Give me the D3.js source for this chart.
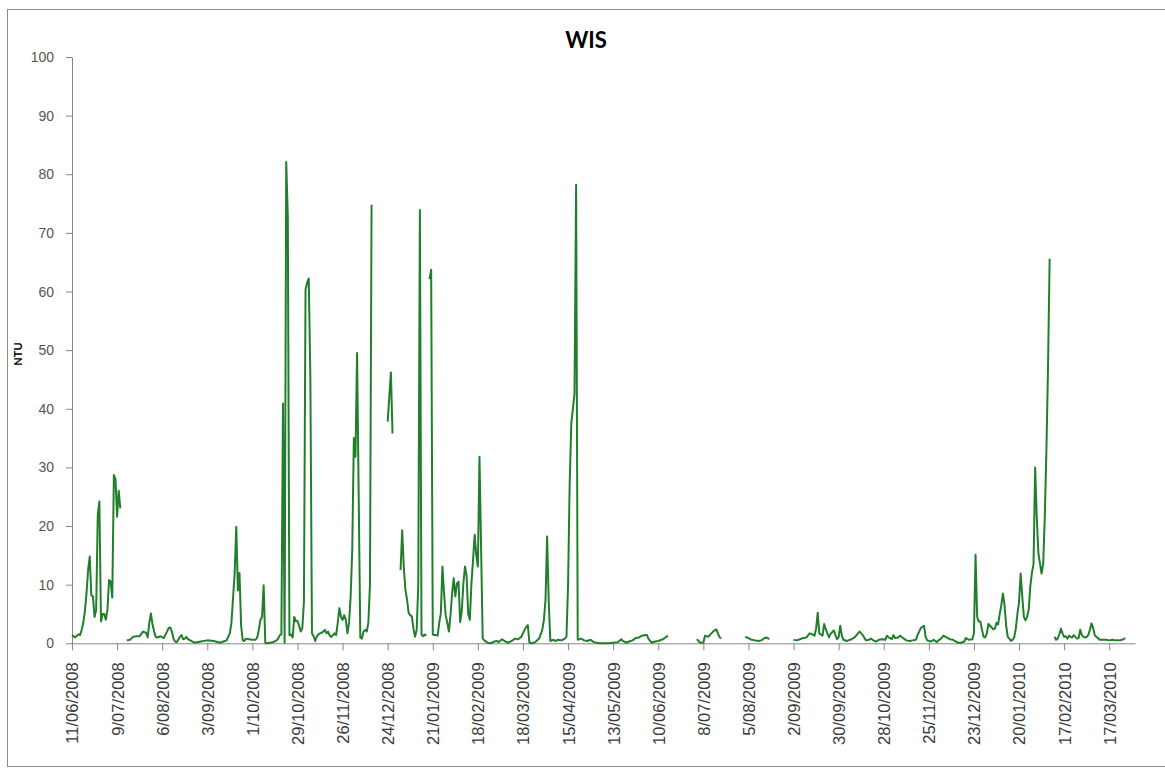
<!DOCTYPE html>
<html>
<head>
<meta charset="utf-8">
<script src="https://cdn.jsdelivr.net/npm/d3@7"></script>
<style>
  html, body { margin: 0; padding: 0; background: #fff; }
  svg { display: block; font-family: Lato, "Open Sans", sans-serif; }
</style>
</head>
<body>
<svg id="chart" width="1165" height="769"></svg>
<script>
// WIS turbidity. [days since 11/06/2008, NTU]; null marks a gap.
const startDate = '11/06/2008';
const readings = [
  [0,1.4],[1,1.2],[2,1.0],[3,1.3],[4,1.5],[5,1.4],[6,2.3],[7,3.5],[8,5.5],[9,8.5],[10,12.5],[11,14.8],
  [12,8.2],[13,8.0],[14,4.5],[15,5.7],[16,21.9],[17,24.2],[18,3.7],[19,5.0],[20,5.0],[21,4.0],[22,5.7],
  [23,10.8],[24,10.5],[25,7.8],[26,28.7],[27,28.0],[28,21.6],[29,26.0],[30,23.0],
  [32,null],
  [34,0.5],[36,0.6],[38,1.1],[40,1.2],[42,1.2],[44,2.0],[46,1.8],[47,1.0],[48,3.5],[49,5.1],[50,3.2],
  [51,2.0],[52,1.1],[53,1.0],[55,1.2],[57,0.9],[59,2.0],[60,2.6],[61,2.7],[62,2.0],[63,0.8],[64,0.3],
  [65,0.2],[66,0.6],[67,1.1],[68,1.4],[69,0.7],[70,0.8],[71,1.1],[72,0.7],[74,0.4],[76,0.1],[80,0.3],
  [84,0.5],[88,0.4],[92,0.1],[94,0.3],[96,0.5],[98,1.7],[99,3.5],[101,12.0],[102,19.9],[103,9.0],
  [104,12.0],[105,3.0],[106,0.5],[107,0.4],[108,0.8],[110,0.7],[112,0.6],[114,0.6],[115,1.0],[116,2.3],
  [117,4.0],[118,4.5],[119,9.9],[120,0.1],[121,0.0],[123,0.1],[125,0.2],[127,0.5],[128,0.8],[129,1.4],
  [130,1.5],[131,40.9],[132,0.1],[133,82.1],[134,72.8],[135,1.4],[136,1.5],[137,1.0],[138,4.5],[139,3.8],
  [140,3.8],[141,3.0],[142,2.0],[143,2.6],[144,7.0],[145,60.3],[146,61.5],[147,62.2],[148,45.0],[149,1.7],
  [150,1.2],[151,0.4],[152,1.2],[153,1.5],[154,1.7],[155,1.8],[156,2.0],[157,2.3],[158,1.7],[159,2.0],
  [160,1.3],[161,1.1],[162,1.4],[163,1.7],[164,1.4],[165,3.5],[166,6.0],[167,4.5],[168,4.0],[169,4.8],
  [170,4.0],[171,1.7],[172,3.5],[173,8.0],[174,15.9],[175,35.0],[176,31.8],[177,49.5],[179,1.0],[180,0.8],
  [181,2.0],[182,2.3],[183,2.0],[184,3.5],[185,10.0],[186,74.8],
  [190,null],
  [196,37.8],[198,46.2],[199,35.8],
  [201,null],
  [204,12.5],[205,19.3],[206,13.0],[207,9.1],[208,7.5],[209,5.2],[210,4.8],[211,4.6],[212,2.5],[213,1.1],
  [214,2.3],[215,10.0],[216,73.9],[217,1.5],[218,1.2],[219,1.5],[220,1.3],
  [221,null],
  [222,62.1],[223,63.7],[224,1.5],[225,1.4],[226,1.4],[227,1.3],[228,3.5],[229,5.1],[230,13.1],[231,8.5],
  [232,4.8],[233,3.5],[234,2.0],[235,4.8],[236,8.5],[237,11.1],[238,8.0],[239,10.2],[240,10.5],[241,3.6],
  [242,5.5],[243,10.2],[244,13.1],[245,11.5],[246,5.0],[247,4.0],[248,10.2],[249,14.2],[250,18.5],[251,15.0],
  [252,13.1],[253,31.8],[255,0.8],[256,0.5],[258,0.1],[260,0.0],[262,0.3],[264,0.4],[265,0.2],[267,0.7],
  [269,0.3],[271,0.1],[273,0.4],[275,0.8],[277,0.7],[279,1.1],[281,2.3],[282,2.8],[283,3.1],[284,0.1],
  [286,0.0],[288,0.3],[290,0.8],[292,2.3],[293,4.0],[294,7.4],[295,18.2],[296,7.0],[297,0.4],[299,0.6],
  [300,0.4],[302,0.6],[304,0.5],[306,0.8],[307,1.1],[308,10.0],[309,27.3],[310,37.5],[311,40.0],[312,42.6],
  [313,78.2],[314,0.6],[316,0.8],[318,0.5],[320,0.4],[322,0.6],[324,0.2],[327,0.0],[330,0.0],[333,0.0],
  [336,0.1],[339,0.2],[341,0.7],[342,0.4],[344,0.1],[346,0.3],[348,0.5],[350,0.9],[352,1.0],[354,1.3],
  [356,1.4],[357,1.4],[358,0.7],[360,0.1],[362,0.3],[364,0.4],[366,0.6],[368,0.9],[370,1.3],
  [375,null],
  [388,0.7],[390,0.1],[392,0.1],[393,1.3],[395,1.1],[397,1.7],[398,2.0],[400,2.4],[401,1.7],[402,1.1],[403,0.8],
  [410,null],
  [418,1.1],[420,0.9],[422,0.6],[424,0.5],[426,0.4],[428,0.5],[430,0.9],[431,1.0],[433,0.7],
  [440,null],
  [448,0.6],[450,0.5],[452,0.7],[454,0.9],[456,1.0],[458,1.7],[459,1.6],[461,1.3],[462,2.5],[463,5.2],
  [464,1.7],[466,1.3],[467,3.3],[468,2.4],[470,1.0],[471,1.6],[473,2.2],[474,1.4],[475,0.7],[476,1.0],
  [477,3.0],[478,1.3],[479,0.6],[481,0.4],[482,0.5],[484,0.7],[486,1.0],[488,1.7],[489,2.0],[491,1.4],
  [492,0.9],[493,0.5],[495,0.6],[496,0.8],[497,0.6],[499,0.3],[501,0.6],[503,0.7],[505,0.6],[506,1.3],
  [507,1.0],[509,0.7],[510,1.4],[511,0.9],[513,1.0],[514,1.3],[516,0.9],[518,0.5],[520,0.4],[522,0.5],
  [524,0.6],[525,1.4],[527,2.6],[529,3.0],[530,1.1],[531,0.5],[533,0.3],[535,0.6],[537,0.2],[538,0.5],
  [540,0.9],[541,1.3],[543,1.0],[545,0.7],[547,0.6],[548,0.4],[550,0.1],[552,0.1],[554,0.3],[555,0.9],
  [557,0.6],[559,0.7],[560,1.7],[561,15.1],[562,4.5],[563,3.7],[564,3.7],[565,2.3],[566,1.1],[567,1.0],
  [568,1.7],[569,3.3],[570,3.0],[571,2.7],[572,2.4],[573,2.5],[574,3.5],[575,3.2],[576,5.0],[577,6.5],
  [578,8.5],[579,6.5],[580,3.0],[581,1.1],[582,0.8],[583,0.4],[584,0.6],[585,1.0],[586,2.5],[587,5.0],
  [588,7.0],[589,11.9],[590,8.0],[591,4.5],[592,3.9],[593,4.5],[594,5.7],[595,9.7],[596,12.0],[597,13.5],
  [598,30.0],[599,21.6],[600,15.4],[601,13.6],[602,11.9],[603,13.6],[604,21.6],[605,33.0],[606,47.0],[607,65.6],
  [609,null],
  [610,1.1],[611,0.6],[612,0.8],[613,1.5],[614,2.5],[615,1.7],[616,1.1],[617,1.2],[618,0.8],[619,1.3],
  [620,1.1],[621,1.0],[622,1.4],[623,1.1],[624,0.8],[625,0.9],[626,2.3],[627,1.4],[628,1.1],[629,1.0],
  [630,1.1],[631,1.4],[632,2.3],[633,3.4],[634,2.6],[635,1.4],[636,1.1],[637,0.9],[638,0.6],[640,0.6],
  [642,0.6],[644,0.5],[646,0.6],[648,0.5],[650,0.5],[652,0.6],[654,0.9]
];

const tickDates = [
  '11/06/2008', '9/07/2008', '6/08/2008', '3/09/2008', '1/10/2008', '29/10/2008',
  '26/11/2008', '24/12/2008', '21/01/2009', '18/02/2009', '18/03/2009', '15/04/2009',
  '13/05/2009', '10/06/2009', '8/07/2009', '5/08/2009', '2/09/2009', '30/09/2009',
  '28/10/2009', '25/11/2009', '23/12/2009', '20/01/2010', '17/02/2010', '17/03/2010'
];
const yTicks = [0, 10, 20, 30, 40, 50, 60, 70, 80, 90, 100];
const axisEndDays = 660;

const parse = d3.utcParse('%d/%m/%Y');
const t0 = parse(startDate);

const svg = d3.select('#chart');
const plot = { left: 72, right: 1135, top: 57, bottom: 643.3 };

// chart border
svg.append('rect')
  .attr('x', 7.5).attr('y', 9.5)
  .attr('width', 1162).attr('height', 757)
  .attr('fill', 'none')
  .attr('stroke', '#8c8c8c');

const x = d3.scaleUtc()
  .domain([t0, d3.utcDay.offset(t0, axisEndDays)])
  .range([plot.left, plot.right]);

const y = d3.scaleLinear()
  .domain([0, 100])
  .range([plot.bottom, plot.top]);

const xAxis = d3.axisBottom(x)
  .tickValues(tickDates.map(parse))
  .tickFormat((d, i) => tickDates[i])
  .tickSize(7)
  .tickSizeOuter(0);

const gx = svg.append('g')
  .attr('transform', `translate(0,${plot.bottom})`)
  .call(xAxis);

gx.selectAll('text')
  .attr('transform', 'rotate(-90)')
  .attr('x', -19)
  .attr('y', 0)
  .attr('dy', '0.36em')
  .style('text-anchor', 'end')
  .style('font-size', '16.5px')
  .style('fill', '#3a3a3a');

const yAxis = d3.axisLeft(y)
  .tickValues(yTicks)
  .tickSize(6)
  .tickPadding(12)
  .tickSizeOuter(0);

const gy = svg.append('g')
  .attr('transform', `translate(${plot.left},0)`)
  .call(yAxis);

gy.selectAll('text')
  .style('font-size', '14px')
  .style('fill', '#555');

svg.selectAll('.domain, .tick line').attr('stroke', '#868686');

const line = d3.line()
  .defined(d => d[1] !== null)
  .x(d => x(d3.utcDay.offset(t0, d[0])))
  .y(d => y(d[1]));

svg.append('path')
  .datum(readings)
  .attr('fill', 'none')
  .attr('stroke', '#217f2c')
  .attr('stroke-width', 2)
  .attr('stroke-linejoin', 'round')
  .attr('d', line);

svg.append('text')
  .attr('x', 586)
  .attr('y', 48)
  .attr('text-anchor', 'middle')
  .style('font-size', '22px')
  .style('font-weight', 'bold')
  .text('WIS');

svg.append('text')
  .attr('transform', 'translate(22,354) rotate(-90)')
  .attr('text-anchor', 'middle')
  .style('font-size', '11px')
  .style('font-weight', 'bold')
  .text('NTU');
</script>
</body>
</html>
